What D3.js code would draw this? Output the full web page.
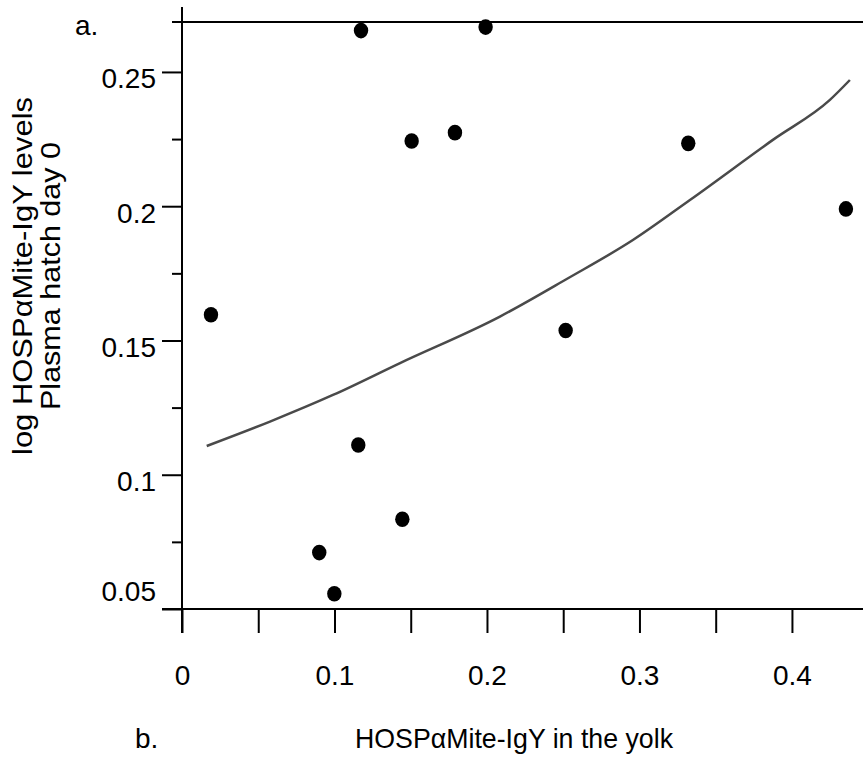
<!DOCTYPE html>
<html>
<head>
<meta charset="utf-8">
<script src="https://cdn.jsdelivr.net/npm/d3@7"></script>
<style>
  html, body { margin: 0; padding: 0; background: #fff; }
  svg { display: block; }
  text { font-family: "Liberation Sans", Arial, Helvetica, sans-serif; fill: #000; }
</style>
</head>
<body>
<svg id="chart" width="863" height="762"></svg>
<script>
// ---- data ----
const yolkX   = [0.019, 0.1174, 0.1991, 0.1506, 0.179, 0.332, 0.4354, 0.2516, 0.1156, 0.1445, 0.090, 0.0999];
const plasmaY = [0.1596, 0.2654, 0.2667, 0.2243, 0.2274, 0.2234, 0.199, 0.1537, 0.1111, 0.0834, 0.071, 0.0557];

const fitX = [0.0162, 0.0577, 0.099, 0.143, 0.2085, 0.2523, 0.2957, 0.3331, 0.3875, 0.4249, 0.438];
const fitY = [0.1107, 0.1198, 0.1297, 0.1416, 0.1589, 0.1729, 0.1874, 0.2023, 0.2247, 0.2396, 0.247];

const xTickValues = [0, 0.05, 0.1, 0.15, 0.2, 0.25, 0.3, 0.35, 0.4];
const xTickLabels = ["0", "", "0.1", "", "0.2", "", "0.3", "", "0.4"];
const yMajorTicks = [0.05, 0.1, 0.15, 0.2, 0.25];
const yMajorLabels = ["0.05", "0.1", "0.15", "0.2", "0.25"];
const yMinorTicks = [0.075, 0.125, 0.175, 0.225];

const xDomain = [0, 0.4466];
const yDomain = [0.05, 0.2686];

// ---- drawing ----
const svg = d3.select("#chart");
const x = d3.scaleLinear().domain(xDomain).range([182, 863]);
const y = d3.scaleLinear().domain(yDomain).range([609, 22]);

const fs = 28;

// frame lines
const frame = svg.append("g").attr("stroke", "#000").attr("stroke-width", 2);
frame.append("line").attr("x1", x(0)).attr("x2", x(0)).attr("y1", y(yDomain[1]) - 15).attr("y2", y(yDomain[0]) + 24);
frame.append("line").attr("x1", x(0) - 20).attr("x2", x(xDomain[1])).attr("y1", y(yDomain[0])).attr("y2", y(yDomain[0]));
frame.append("line").attr("x1", x(0) - 10).attr("x2", x(xDomain[1])).attr("y1", y(yDomain[1])).attr("y2", y(yDomain[1]));

// y axis major ticks
const yAxisMajor = d3.axisLeft(y).tickValues(yMajorTicks).tickSize(20).tickPadding(6)
  .tickFormat((d, i) => yMajorLabels[i]);
const gy = svg.append("g").attr("transform", `translate(${x(0)},0)`).call(yAxisMajor);
gy.select(".domain").remove();
gy.selectAll(".tick line").attr("stroke", "#000").attr("stroke-width", 2);
gy.selectAll(".tick text")
  .attr("font-size", fs).attr("fill", "#000")
  .attr("y", d => d === yDomain[0] ? -17 : 7);

// y axis minor ticks
const gyMinor = svg.append("g").attr("transform", `translate(${x(0)},0)`)
  .call(d3.axisLeft(y).tickValues(yMinorTicks).tickSize(10).tickFormat(""));
gyMinor.select(".domain").remove();
gyMinor.selectAll(".tick line").attr("stroke", "#000").attr("stroke-width", 2);

// x axis
const gx = svg.append("g").attr("transform", `translate(0,${y(yDomain[0])})`)
  .call(d3.axisBottom(x).tickValues(xTickValues).tickSize(24).tickPadding(32)
    .tickFormat((d, i) => xTickLabels[i]));
gx.select(".domain").remove();
gx.selectAll(".tick line").attr("stroke", "#000").attr("stroke-width", 2);
gx.selectAll(".tick text").attr("font-size", fs).attr("fill", "#000");

// fitted curve
const fitData = fitX.map((v, i) => [v, fitY[i]]);
svg.append("path")
  .datum(fitData)
  .attr("fill", "none")
  .attr("stroke", "#4a4a4a")
  .attr("stroke-width", 2.5)
  .attr("d", d3.line().x(d => x(d[0])).y(d => y(d[1])).curve(d3.curveMonotoneX));

// points
const pts = yolkX.map((v, i) => [v, plasmaY[i]]);
svg.append("g").selectAll("ellipse").data(pts).join("ellipse")
  .attr("cx", d => x(d[0])).attr("cy", d => y(d[1]))
  .attr("rx", 7.2).attr("ry", 7.8)
  .attr("fill", "#000");

// y title (two lines)
const yt = svg.append("g").attr("transform", "rotate(-90)");
yt.append("text").attr("x", -276).attr("y", 32).attr("text-anchor", "middle")
  .attr("font-size", fs).attr("textLength", 358).attr("lengthAdjust", "spacingAndGlyphs")
  .text("log HOSPαMite-IgY levels");
yt.append("text").attr("x", -276).attr("y", 60).attr("text-anchor", "middle")
  .attr("font-size", fs).attr("textLength", 268).attr("lengthAdjust", "spacingAndGlyphs")
  .text("Plasma hatch day 0");

// x title
svg.append("text").attr("x", 355).attr("y", 748).attr("font-size", fs)
  .attr("textLength", 318).attr("lengthAdjust", "spacingAndGlyphs")
  .text("HOSPαMite-IgY in the yolk");

// panel letters
svg.append("text").attr("x", 75).attr("y", 35).attr("font-size", fs).text("a.");
svg.append("text").attr("x", 135).attr("y", 748).attr("font-size", fs).text("b.");
</script>
</body>
</html>
